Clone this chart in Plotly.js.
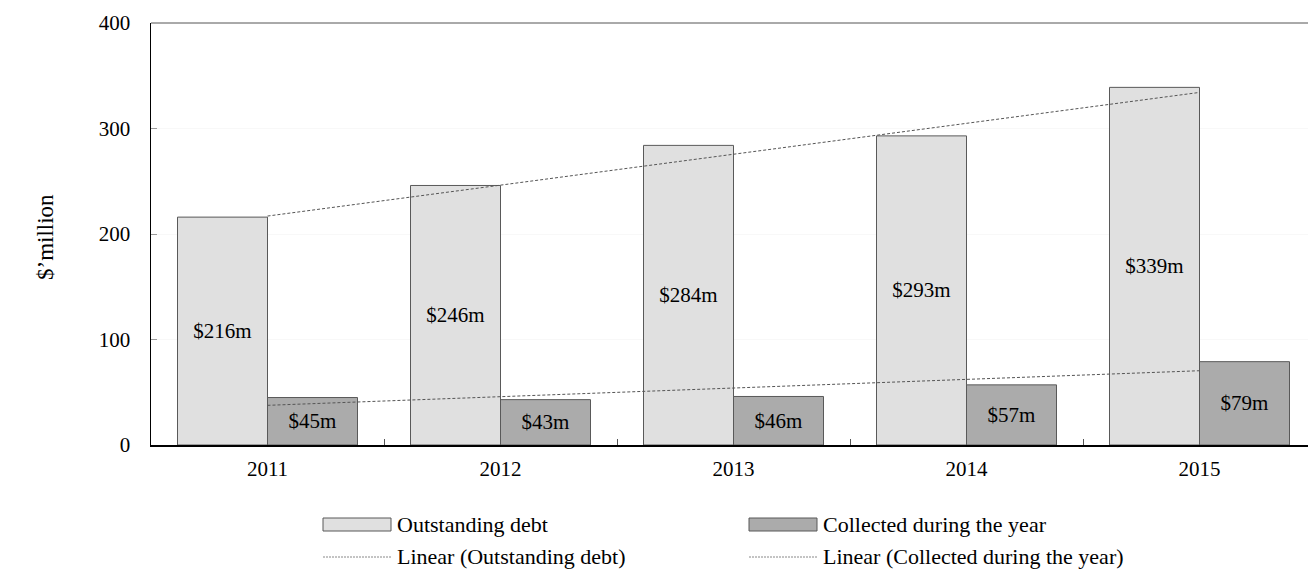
<!DOCTYPE html>
<html>
<head>
<meta charset="utf-8">
<script src="https://cdn.plot.ly/plotly-3.0.1.min.js"></script>
<style>html,body{margin:0;padding:0;background:#fff;}#chart{width:1308px;height:569px;}</style>
</head>
<body>
<div id="chart"></div>
<script>
const years = ["2011", "2012", "2013", "2014", "2015"];
const outstandingDebt = [216, 246, 284, 293, 339];
const collectedDuringYear = [45, 43, 46, 57, 79];
const seriesNames = ["Outstanding debt", "Collected during the year"];
const yTicks = [0, 100, 200, 300, 400];

function linearFit(vals) {
  const n = vals.length;
  const xs = vals.map((_, i) => i + 1);
  const mx = xs.reduce((a, b) => a + b, 0) / n;
  const my = vals.reduce((a, b) => a + b, 0) / n;
  let num = 0, den = 0;
  for (let i = 0; i < n; i++) { num += (xs[i] - mx) * (vals[i] - my); den += (xs[i] - mx) ** 2; }
  const slope = num / den;
  return xs.map(x => my + slope * (x - mx));
}

const FONT = "Liberation Serif, Times New Roman, serif";
const C1 = "#e0e0e0", C2 = "#ababab", EDGE = "#595959";

const traces = [
  {
    type: "bar", x: years, y: outstandingDebt, name: seriesNames[0],
    marker: {color: C1, line: {color: EDGE, width: 1}},
    text: outstandingDebt.map(v => "$" + v + "m"), textposition: "inside",
    insidetextanchor: "middle", textangle: 0,
    textfont: {family: FONT, size: 21, color: "#000"}, hoverinfo: "skip"
  },
  {
    type: "bar", x: years, y: collectedDuringYear, name: seriesNames[1],
    marker: {color: C2, line: {color: EDGE, width: 1}},
    text: collectedDuringYear.map(v => "$" + v + "m"), textposition: "inside",
    insidetextanchor: "middle", textangle: 0,
    textfont: {family: FONT, size: 21, color: "#000"}, hoverinfo: "skip"
  },
  {
    type: "scatter", mode: "lines", x: years, y: linearFit(outstandingDebt),
    name: "Linear (" + seriesNames[0] + ")",
    line: {color: "#555", width: 1, dash: "3px,2px"}, hoverinfo: "skip"
  },
  {
    type: "scatter", mode: "lines", x: years, y: linearFit(collectedDuringYear),
    name: "Linear (" + seriesNames[1] + ")",
    line: {color: "#555", width: 1, dash: "3px,2px"}, hoverinfo: "skip"
  }
];

const L = 151, T = 23, PW = 1157, PH = 422;
const px = v => (v - L) / PW;
const py = v => (T + PH - v) / PH;

const shapes = [
  {type: "line", xref: "paper", yref: "paper", x0: 0, x1: 1, y0: 1, y1: 1, line: {color: "#555", width: 1}},
  {type: "rect", xref: "paper", yref: "paper", x0: px(323), x1: px(391), y0: py(518), y1: py(531), fillcolor: C1, line: {color: EDGE, width: 1}},
  {type: "rect", xref: "paper", yref: "paper", x0: px(749), x1: px(817), y0: py(518), y1: py(531), fillcolor: C2, line: {color: EDGE, width: 1}},
  {type: "line", xref: "paper", yref: "paper", x0: px(323), x1: px(391), y0: py(557), y1: py(557), line: {color: "#888", width: 1, dash: "2px,1px"}},
  {type: "line", xref: "paper", yref: "paper", x0: px(749), x1: px(817), y0: py(557), y1: py(557), line: {color: "#888", width: 1, dash: "2px,1px"}}
];

const legFont = {family: FONT, size: 22, color: "#000"};
const annotations = [
  {xref: "paper", yref: "paper", x: px(45), y: py(237), text: "$’million", textangle: -90, showarrow: false, xanchor: "center", yanchor: "middle", font: {family: FONT, size: 23, color: "#000"}},
  {xref: "paper", yref: "paper", x: px(395), y: py(524), text: seriesNames[0], showarrow: false, xanchor: "left", yanchor: "middle", font: legFont},
  {xref: "paper", yref: "paper", x: px(821), y: py(524), text: seriesNames[1], showarrow: false, xanchor: "left", yanchor: "middle", font: legFont},
  {xref: "paper", yref: "paper", x: px(395), y: py(556), text: "Linear (" + seriesNames[0] + ")", showarrow: false, xanchor: "left", yanchor: "middle", font: legFont},
  {xref: "paper", yref: "paper", x: px(821), y: py(556), text: "Linear (" + seriesNames[1] + ")", showarrow: false, xanchor: "left", yanchor: "middle", font: legFont}
];

const layout = {
  width: 1308, height: 569,
  margin: {l: L, r: 0, t: T, b: 569 - T - PH},
  paper_bgcolor: "#fff", plot_bgcolor: "#fff",
  barmode: "group", bargap: 0.2275, bargroupgap: 0,
  showlegend: false,
  font: {family: FONT, size: 21, color: "#000"},
  xaxis: {
    type: "category", range: [-0.5, -0.5 + PW / 233],
    showline: true, linecolor: "#000", linewidth: 1.5,
    tickson: "boundaries", ticks: "inside", ticklen: 6, tickcolor: "#555",
    showgrid: false, zeroline: false, ticklabelstandoff: 4,
    tickfont: {family: FONT, size: 21, color: "#000"}
  },
  yaxis: {
    range: [0, 400], tickvals: yTicks, ticktext: yTicks.map(String),
    showline: true, linecolor: "#000", linewidth: 1.5,
    ticks: "inside", ticklen: 6, tickcolor: "#999",
    showgrid: true, gridcolor: "#f8f8f8", zeroline: false,
    ticklabelstandoff: 15,
    tickfont: {family: FONT, size: 21, color: "#000"}
  },
  shapes: shapes,
  annotations: annotations
};

Plotly.newPlot("chart", traces, layout, {displayModeBar: false, staticPlot: true});
</script>
</body>
</html>
